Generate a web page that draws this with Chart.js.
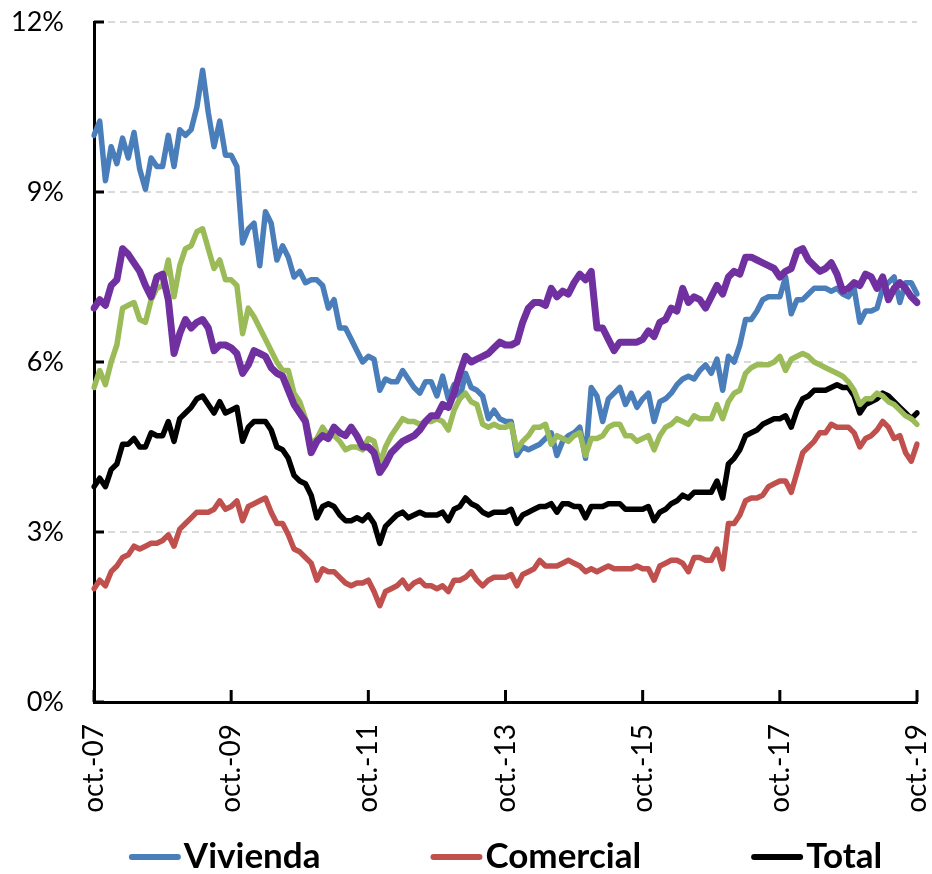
<!DOCTYPE html>
<html>
<head>
<meta charset="utf-8">
<script src="https://cdn.jsdelivr.net/npm/chart.js@4/dist/chart.umd.min.js"></script>
<style>
  html, body { margin: 0; padding: 0; background: #fff; }
  #wrap { width: 932px; height: 874px; }
</style>
</head>
<body>
<div id="wrap"><canvas id="chart"></canvas></div>
<script>
// monthly data, oct-07 .. oct-19 (145 months)
const startYear = 2007;
const startMonth = 9; // october
const monthCount = 145;
const monthNames = ["ene.", "feb.", "mar.", "abr.", "may.", "jun.", "jul.", "ago.", "sep.", "oct.", "nov.", "dic."];
const tickLabels = ["oct.-07", "oct.-09", "oct.-11", "oct.-13", "oct.-15", "oct.-17", "oct.-19"];
const yTicks = [0, 3, 6, 9, 12];
const legendNames = ["Vivienda", "Comercial", "Total"];

const vivienda = [10.0,10.25,9.2,9.8,9.5,9.95,9.6,10.05,9.4,9.05,
  9.6,9.45,9.45,10.0,9.45,10.1,10.0,10.1,10.5,11.15,
  10.4,9.8,10.25,9.65,9.65,9.45,8.1,8.35,8.45,7.7,
  8.65,8.45,7.8,8.05,7.85,7.5,7.6,7.4,7.45,7.45,
  7.35,6.95,7.1,6.6,6.6,6.4,6.2,6.0,6.1,6.05,
  5.5,5.7,5.65,5.65,5.85,5.7,5.55,5.45,5.65,5.65,
  5.4,5.75,5.35,5.6,5.35,5.8,5.55,5.5,5.4,5.0,
  5.15,5.0,4.95,4.95,4.35,4.5,4.45,4.5,4.55,4.65,
  4.75,4.35,4.6,4.7,4.75,4.85,4.3,5.55,5.4,4.95,
  5.35,5.45,5.55,5.25,5.45,5.2,5.35,5.45,4.95,5.3,
  5.35,5.45,5.6,5.7,5.75,5.7,5.85,5.95,5.8,6.05,
  5.5,6.1,6.0,6.3,6.75,6.75,6.9,7.1,7.15,7.15,
  7.15,7.5,6.85,7.1,7.1,7.2,7.3,7.3,7.3,7.25,
  7.3,7.2,7.15,7.3,6.7,6.9,6.9,6.95,7.3,7.4,
  7.5,7.05,7.4,7.4,7.2];

const comercial = [2.0,2.15,2.05,2.3,2.4,2.55,2.6,2.75,2.7,2.75,
  2.8,2.8,2.85,2.95,2.75,3.05,3.15,3.25,3.35,3.35,
  3.35,3.4,3.55,3.4,3.45,3.55,3.2,3.45,3.5,3.55,
  3.6,3.35,3.15,3.15,2.95,2.7,2.65,2.55,2.45,2.15,
  2.35,2.3,2.3,2.2,2.1,2.05,2.1,2.1,2.15,1.95,
  1.7,1.95,2.0,2.05,2.15,2.0,2.1,2.15,2.05,2.05,
  2.0,2.05,1.95,2.15,2.15,2.2,2.3,2.15,2.05,2.15,
  2.2,2.2,2.2,2.25,2.05,2.25,2.3,2.35,2.5,2.4,
  2.4,2.4,2.45,2.5,2.45,2.4,2.3,2.35,2.3,2.35,
  2.4,2.35,2.35,2.35,2.35,2.4,2.35,2.35,2.15,2.4,
  2.45,2.5,2.5,2.45,2.3,2.55,2.55,2.5,2.5,2.7,
  2.35,3.15,3.15,3.3,3.55,3.6,3.6,3.65,3.8,3.85,
  3.9,3.9,3.7,4.05,4.4,4.5,4.6,4.75,4.75,4.9,
  4.85,4.85,4.85,4.75,4.5,4.65,4.7,4.8,4.95,4.85,
  4.65,4.7,4.4,4.25,4.55];

const total = [3.8,3.95,3.8,4.1,4.2,4.55,4.55,4.65,4.5,4.5,
  4.75,4.7,4.7,4.95,4.6,5.0,5.1,5.2,5.35,5.4,
  5.25,5.1,5.3,5.1,5.15,5.2,4.6,4.85,4.95,4.95,
  4.95,4.8,4.5,4.45,4.3,4.0,3.9,3.85,3.65,3.25,
  3.45,3.5,3.45,3.3,3.2,3.2,3.25,3.2,3.3,3.15,
  2.8,3.1,3.2,3.3,3.35,3.25,3.3,3.35,3.3,3.3,
  3.3,3.35,3.2,3.4,3.45,3.6,3.5,3.45,3.35,3.3,
  3.35,3.35,3.35,3.4,3.15,3.3,3.35,3.4,3.45,3.45,
  3.5,3.35,3.5,3.5,3.45,3.45,3.25,3.45,3.45,3.45,
  3.5,3.5,3.5,3.4,3.4,3.4,3.4,3.45,3.2,3.35,
  3.4,3.5,3.55,3.65,3.6,3.7,3.7,3.7,3.7,3.9,
  3.6,4.2,4.3,4.45,4.7,4.75,4.8,4.9,4.95,5.0,
  5.0,5.05,4.85,5.15,5.35,5.4,5.5,5.5,5.5,5.55,
  5.6,5.55,5.55,5.4,5.1,5.25,5.3,5.35,5.45,5.4,
  5.3,5.2,5.1,5.0,5.1];

// the two unlabeled series (not in the legend)
const serieVerde = [5.55,5.85,5.6,6.0,6.3,6.95,7.0,7.05,6.75,6.7,
  7.1,7.3,7.35,7.8,7.15,7.7,8.0,8.05,8.3,8.35,
  8.0,7.65,7.8,7.45,7.45,7.35,6.5,6.95,6.8,6.6,
  6.4,6.2,6.0,5.85,5.85,5.45,5.3,5.0,4.55,4.65,
  4.85,4.7,4.7,4.6,4.45,4.5,4.5,4.45,4.65,4.6,
  4.2,4.5,4.7,4.85,5.0,4.95,4.95,4.9,4.95,4.95,
  5.0,4.95,4.8,5.15,5.35,5.45,5.3,5.25,4.9,4.85,
  4.9,4.85,4.85,4.9,4.45,4.6,4.7,4.85,4.85,4.9,
  4.55,4.7,4.65,4.6,4.7,4.75,4.35,4.65,4.65,4.7,
  4.85,4.9,4.9,4.7,4.7,4.6,4.65,4.7,4.45,4.7,
  4.85,4.9,5.0,4.95,4.9,5.05,5.0,5.0,5.0,5.25,
  5.0,5.3,5.45,5.5,5.8,5.9,5.95,5.95,5.95,6.0,
  6.1,5.85,6.05,6.1,6.15,6.1,6.0,5.95,5.9,5.85,
  5.8,5.75,5.65,5.5,5.25,5.35,5.35,5.45,5.4,5.3,
  5.25,5.15,5.05,5.0,4.9];

const serieMorada = [6.95,7.1,7.0,7.35,7.45,8.0,7.9,7.75,7.6,7.35,
  7.15,7.5,7.55,7.1,6.15,6.5,6.75,6.6,6.7,6.75,
  6.6,6.2,6.3,6.3,6.25,6.15,5.8,5.95,6.2,6.15,
  6.1,5.9,5.8,5.75,5.5,5.25,5.1,4.95,4.4,4.6,
  4.7,4.65,4.85,4.75,4.7,4.85,4.7,4.5,4.5,4.4,
  4.05,4.2,4.4,4.5,4.6,4.65,4.7,4.8,4.95,5.05,
  5.05,5.25,5.2,5.45,5.8,6.1,6.0,6.05,6.1,6.15,
  6.25,6.35,6.3,6.3,6.35,6.7,6.95,7.05,7.05,7.0,
  7.3,7.15,7.25,7.2,7.4,7.55,7.45,7.6,6.6,6.6,
  6.4,6.2,6.35,6.35,6.35,6.35,6.4,6.55,6.45,6.7,
  6.75,6.95,6.9,7.3,7.05,7.15,7.1,6.95,7.15,7.35,
  7.2,7.5,7.6,7.55,7.85,7.85,7.8,7.75,7.7,7.65,
  7.5,7.6,7.65,7.95,8.0,7.8,7.7,7.6,7.65,7.75,
  7.55,7.25,7.3,7.4,7.35,7.55,7.5,7.3,7.5,7.1,
  7.3,7.4,7.3,7.15,7.05];

const months = [];
for (let k = 0; k < monthCount; k++) {
  const m = (startMonth + k) % 12;
  const yr = startYear + Math.floor((startMonth + k) / 12);
  months.push(monthNames[m] + "-" + String(yr).slice(2));
}

const FONT = "Lato, 'Liberation Sans', sans-serif";

// Excel-style tick marks drawn inside the plot area
const innerTicks = {
  id: "innerTicks",
  afterDatasetsDraw(chart) {
    const { ctx, chartArea, scales } = chart;
    ctx.save();
    ctx.strokeStyle = "#000";
    ctx.lineWidth = 3;
    ctx.beginPath();
    yTicks.forEach((v) => {
      const py = scales.y.getPixelForValue(v);
      ctx.moveTo(chartArea.left, py);
      ctx.lineTo(chartArea.left + 10, py);
    });
    months.forEach((lbl, i) => {
      if (!tickLabels.includes(lbl)) return;
      const px = scales.x.getPixelForValue(i);
      ctx.moveTo(px, chartArea.bottom);
      ctx.lineTo(px, chartArea.bottom - 12);
    });
    ctx.stroke();
    ctx.restore();
  },
};

// one-row legend under the axis labels (only the three named series)
const bottomLegend = {
  id: "bottomLegend",
  afterDraw(chart) {
    const { ctx, chartArea } = chart;
    const sets = chart.data.datasets.filter((d) => legendNames.includes(d.label));
    const sample = 46, gapText = 6, gapItem = 110, y = 857;
    ctx.save();
    ctx.font = "bold 35px " + FONT;
    ctx.textBaseline = "middle";
    const widths = sets.map((d) => ctx.measureText(d.label).width);
    const full = widths.reduce((a, w) => a + w + sample + 3 + gapText, 0) + gapItem * (sets.length - 1);
    let x = (chartArea.left + chartArea.right) / 2 - full / 2;
    sets.forEach((d, i) => {
      ctx.strokeStyle = d.borderColor;
      ctx.lineWidth = 6;
      ctx.lineCap = "round";
      ctx.beginPath();
      ctx.moveTo(x + 3, y);
      ctx.lineTo(x + 3 + sample, y);
      ctx.stroke();
      ctx.fillStyle = "#000";
      ctx.fillText(d.label, x + 3 + sample + gapText, y);
      x += sample + 3 + gapText + widths[i] + gapItem;
    });
    ctx.restore();
  },
};

const line = (label, data, color, width, order) => ({
  label, data, order,
  borderColor: color,
  backgroundColor: color,
  borderWidth: width,
  pointRadius: 0,
  tension: 0,
  borderJoinStyle: "round",
  borderCapStyle: "round",
});

new Chart(document.getElementById("chart"), {
  type: "line",
  data: {
    labels: months,
    datasets: [
      line("Vivienda", vivienda, "#4a7ebb", 5.5, 2),
      line("Comercial", comercial, "#c0504d", 5.5, 4),
      line("Total", total, "#000000", 5.5, 3),
      line("Serie 4", serieVerde, "#9bbb59", 5.5, 1),
      line("Serie 5", serieMorada, "#7030a0", 7, 0),
    ],
  },
  options: {
    responsive: true,
    maintainAspectRatio: false,
    animation: false,
    layout: { padding: { top: 22, right: 15, left: 0, bottom: 44 } },
    plugins: {
      tooltip: { enabled: false },
      legend: { display: false },
    },
    scales: {
      x: {
        type: "category",
        offset: false,
        grid: { display: false, drawTicks: false },
        border: { display: true, color: "#000", width: 3 },
        ticks: {
          autoSkip: false,
          minRotation: 90,
          maxRotation: 90,
          padding: 22,
          color: "#000",
          font: { family: FONT, size: 28 },
          callback(value, index) {
            const lbl = months[index];
            return tickLabels.includes(lbl) ? lbl : null;
          },
        },
        afterFit(scale) {
          scale.height = 128;
          scale.paddingLeft = 0;
          scale.paddingRight = 0;
        },
      },
      y: {
        min: 0,
        max: 12,
        afterBuildTicks(scale) { scale.ticks = yTicks.map((v) => ({ value: v })); },
        grid: {
          color: (c) => (c.tick && c.tick.value === 0 ? "rgba(0,0,0,0)" : "#d9d9d9"),
          lineWidth: 2,
          drawTicks: false,
        },
        border: { display: true, color: "#000", width: 3, dash: [7, 5] },
        ticks: {
          padding: 30,
          color: "#000",
          font: { family: FONT, size: 27 },
          callback: (v) => v + "%",
        },
        afterFit(scale) {
          scale.width = 94;
          scale.paddingTop = 0;
          scale.paddingBottom = 0;
        },
      },
    },
  },
  plugins: [innerTicks, bottomLegend],
});
</script>
</body>
</html>
